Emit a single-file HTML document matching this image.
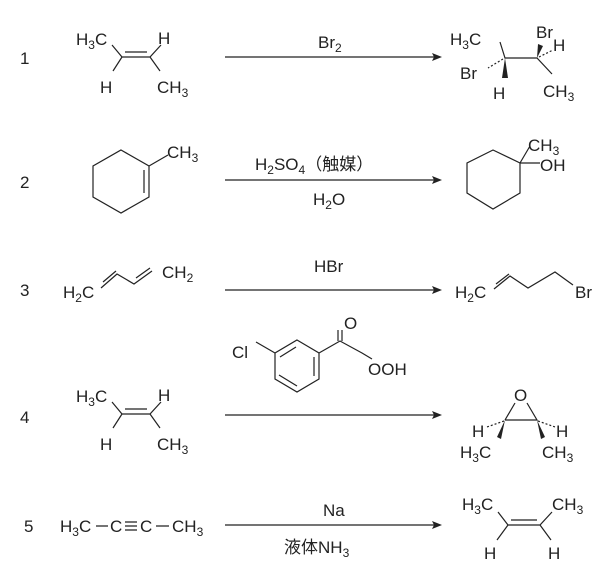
<!DOCTYPE html><html><head><style>body{margin:0;background:#fff}svg{display:block}text{font-family:"Liberation Sans","Noto Sans CJK JP",sans-serif;font-size:17px;fill:#222}.s{font-size:12px}</style></head><body>
<svg width="605" height="577" viewBox="0 0 605 577" stroke="#222" stroke-width="1.2" fill="none">
<g stroke="none">
<text x="20" y="64">1</text><text x="20" y="188">2</text><text x="20" y="296">3</text><text x="20" y="423">4</text><text x="24" y="532">5</text>
</g>
<g>
<line x1="225" y1="57" x2="435" y2="57"/><line x1="225" y1="180" x2="435" y2="180"/><line x1="225" y1="290" x2="435" y2="290"/><line x1="225" y1="415" x2="435" y2="415"/><line x1="225" y1="525" x2="435" y2="525"/>
</g>
<g fill="#222" stroke="none">
<path d="M442 57 L432 53 L434 57 L432 61Z"/><path d="M442 180 L432 176 L434 180 L432 184Z"/><path d="M442 290 L432 286 L434 290 L432 294Z"/><path d="M442 415 L432 411 L434 415 L432 419Z"/><path d="M442 525 L432 521 L434 525 L432 529Z"/>
</g>
<g stroke="none">
<text x="318" y="48">Br<tspan class="s" dy="4">2</tspan></text>
<text x="255" y="170">H<tspan class="s" dy="4">2</tspan><tspan dy="-4">SO</tspan><tspan class="s" dy="4">4</tspan><tspan dy="-4">（触媒）</tspan></text>
<text x="313" y="205">H<tspan class="s" dy="4">2</tspan><tspan dy="-4">O</tspan></text>
<text x="314" y="272">HBr</text>
<text x="323" y="516">Na</text>
<text x="284" y="553">液体NH<tspan class="s" dy="4">3</tspan></text>
</g>
<g stroke="none"><text x="76" y="45">H<tspan class="s" dy="4">3</tspan><tspan dy="-4">C</tspan></text><text x="158" y="44">H</text><text x="100" y="93">H</text><text x="157" y="93">CH<tspan class="s" dy="4">3</tspan></text></g>
<path d="M112 45 L122 57 L150 57 L161 45 M122 57 L113 71 M150 57 L160 71 M125 52 L147 52"/>
<g stroke="none"><text x="450" y="45">H<tspan class="s" dy="4">3</tspan><tspan dy="-4">C</tspan></text><text x="536" y="38">Br</text><text x="553" y="51">H</text><text x="460" y="79">Br</text><text x="493" y="99">H</text><text x="543" y="97">CH<tspan class="s" dy="4">3</tspan></text>
<path d="M505 58 L502 78 L508 78Z" fill="#222"/><path d="M537 58 L538 44 L543 46Z" fill="#222"/></g>
<path d="M500 42 L505 58 L537 58 L552 74"/>
<path d="M503 59 L488 68" stroke-dasharray="2,2"/><path d="M539 57 L553 50" stroke-dasharray="2,2"/>
<path d="M121 150 L149 166 L149 197 L121 213 L93 197 L93 166 Z M144 170 L144 193 M149 166 L168 155"/>
<text x="167" y="158" stroke="none">CH<tspan class="s" dy="4">3</tspan></text>
<path d="M493 150 L520 163 L520 193 L493 209 L467 193 L467 163 Z M520 163 L530 146 M520 163 L540 163"/>
<g stroke="none"><text x="528" y="151">CH<tspan class="s" dy="4">3</tspan></text><text x="540" y="171">OH</text></g>
<g stroke="none"><text x="63" y="298">H<tspan class="s" dy="4">2</tspan><tspan dy="-4">C</tspan></text><text x="162" y="278">CH<tspan class="s" dy="4">2</tspan></text></g>
<path d="M101 288 L117 274 L134 284 L152 271 M103 282 L116 271 M136 278 L150 268"/>
<g stroke="none"><text x="455" y="298">H<tspan class="s" dy="4">2</tspan><tspan dy="-4">C</tspan></text><text x="575" y="298">Br</text></g>
<path d="M494 289 L510 276 L528 288 L555 272 L573 285 M496 284 L509 274"/>
<path d="M297 340 L319 353 L319 379 L297 392 L275 379 L275 353 Z M314 357 L314 376 M297 386 L279 375 M280 357 L296 347 M275 353 L256 342 M319 353 L340 341 L362 353 M338 341 L338 330 M342 341 L342 330 M362 353 L372 359"/>
<g stroke="none"><text x="232" y="358">Cl</text><text x="344" y="329">O</text><text x="368" y="375">OOH</text></g>
<g stroke="none"><text x="76" y="402">H<tspan class="s" dy="4">3</tspan><tspan dy="-4">C</tspan></text><text x="158" y="401">H</text><text x="100" y="450">H</text><text x="157" y="450">CH<tspan class="s" dy="4">3</tspan></text></g>
<path d="M112 402 L122 414 L150 414 L161 402 M122 414 L113 428 M150 414 L160 428 M125 409 L147 409"/>
<g stroke="none"><text x="514" y="401">O</text><text x="472" y="437">H</text><text x="556" y="437">H</text><text x="460" y="458">H<tspan class="s" dy="4">3</tspan><tspan dy="-4">C</tspan></text><text x="542" y="458">CH<tspan class="s" dy="4">3</tspan></text>
<path d="M505 420 L497 437 L501 439Z" fill="#222"/><path d="M537 420 L545 437 L541 439Z" fill="#222"/></g>
<path d="M505 420 L537 420 L527 403 M505 420 L515 403"/>
<path d="M504 421 L487 427 M538 421 L555 427" stroke-dasharray="2,2"/>
<g stroke="none"><text x="60" y="532">H<tspan class="s" dy="4">3</tspan><tspan dy="-4">C</tspan></text><text x="110" y="532">C</text><text x="140" y="532">C</text><text x="172" y="532">CH<tspan class="s" dy="4">3</tspan></text></g>
<path d="M96 526 L108 526 M156 526 L169 526 M125 522 L137 522 M125 526 L137 526 M125 530 L137 530"/>
<g stroke="none"><text x="462" y="510">H<tspan class="s" dy="4">3</tspan><tspan dy="-4">C</tspan></text><text x="552" y="510">CH<tspan class="s" dy="4">3</tspan></text><text x="484" y="559">H</text><text x="548" y="559">H</text></g>
<path d="M498 512 L508 525 L540 525 L552 512 M508 525 L497 540 M540 525 L551 540 M511 520 L537 520"/>
</svg></body></html>
